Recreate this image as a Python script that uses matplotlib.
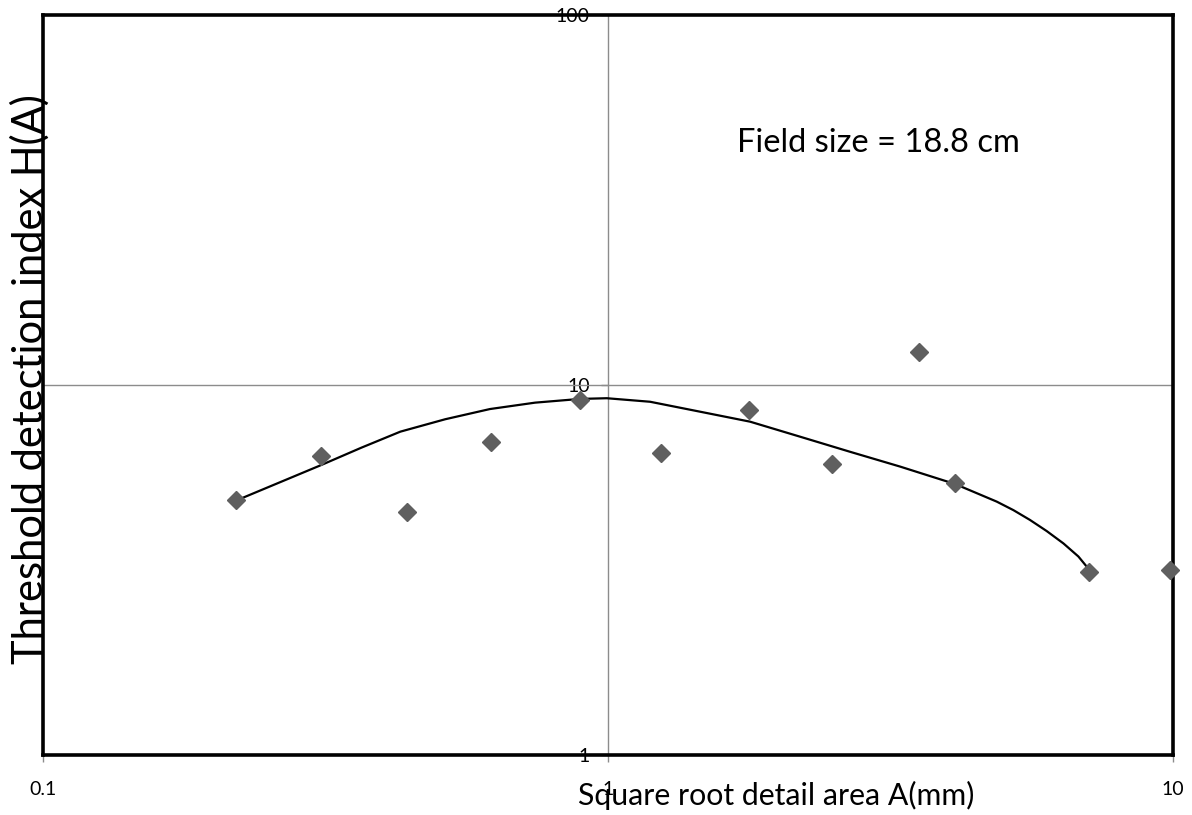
import matplotlib
matplotlib.use('Agg')
import matplotlib.pyplot as plt
import matplotlib.ticker as ticker

plt.rcParams['font.family'] = ['Lato', 'DejaVu Sans']

# measured points: square root of detail area (mm) vs threshold detection index
area_sqrt = [0.220, 0.311, 0.441, 0.621, 0.892, 1.241, 1.776, 2.489, 3.556, 4.11, 7.11, 9.88]
h_index   = [4.89, 6.44, 4.53, 7.00, 9.11, 6.54, 8.56, 6.11, 12.26, 5.42, 3.12, 3.16]

# trend curve
trend_x = [0.221, 0.311, 0.366, 0.429, 0.515, 0.618, 0.743, 0.892, 0.995, 1.187,
           1.455, 1.784, 2.187, 2.681, 3.287, 4.114, 4.875, 5.218, 5.58, 5.976,
           6.40, 6.80, 7.13]
trend_y = [4.89, 6.08, 6.77, 7.48, 8.08, 8.61, 8.96, 9.17, 9.21, 9.01,
           8.47, 7.96, 7.25, 6.60, 6.02, 5.40, 4.84, 4.59, 4.32, 4.03,
           3.73, 3.44, 3.15]

x_ticks = [0.1, 1, 10]
y_ticks = [1, 10, 100]

MARKER = '#5f5f5f'
GRID = '#8c8c8c'

fig = plt.figure(figsize=(11.92, 8.15), dpi=100)
ax = fig.add_axes([43 / 1192, 60 / 815, 1130 / 1192, 740 / 815])

ax.set_xscale('log')
ax.set_yscale('log')
ax.set_xlim(0.1, 10)
ax.set_ylim(1, 100)

ax.axhline(10, color=GRID, linewidth=1.0, zorder=1)

ax.plot(trend_x, trend_y, color='black', linewidth=1.6, zorder=3)
ax.plot(area_sqrt, h_index, linestyle='none', marker='D', markersize=9,
        color=MARKER, zorder=4, clip_on=False)

for side in ['left', 'right', 'top', 'bottom']:
    ax.spines[side].set_linewidth(2.6)
    ax.spines[side].set_color('black')

# x axis: ticks only at decades
ax.set_xticks(x_ticks)
ax.xaxis.set_major_formatter(ticker.FuncFormatter(lambda v, p: f'{v:g}'))
ax.xaxis.set_minor_locator(ticker.NullLocator())
ax.tick_params(axis='x', length=5, width=1, color=GRID, labelsize=14, pad=14)

# y axis drawn through x = 1, like the spreadsheet chart
ax.set_yticks([])
ax.yaxis.set_minor_locator(ticker.NullLocator())
sec = ax.secondary_yaxis(0.5)
sec.set_alignment('left')
sec.set_yticks(y_ticks)
sec.yaxis.set_major_formatter(ticker.FuncFormatter(lambda v, p: f'{v:g}'))
sec.yaxis.set_minor_locator(ticker.NullLocator())
for side in ['left', 'right']:
    sec.spines[side].set_color(GRID)
    sec.spines[side].set_linewidth(1.0)
sec.tick_params(axis='y', length=5, width=1, color=GRID, labelsize=14, pad=8)

ax.set_xlabel('Square root detail area A(mm)', fontsize=21.8)
ax.xaxis.set_label_coords((776 - 43) / 1130, -0.054)
ax.xaxis.label.set_verticalalignment('center')
ax.set_ylabel('Threshold detection index H(A)', fontsize=30)
ax.yaxis.set_label_coords(-0.0115, 0.508)
ax.yaxis.label.set_verticalalignment('center')

ax.text(0.739, 0.827, 'Field size = 18.8 cm', transform=ax.transAxes,
        ha='center', va='center', fontsize=23.5)

fig.savefig('out.png', dpi=100)
